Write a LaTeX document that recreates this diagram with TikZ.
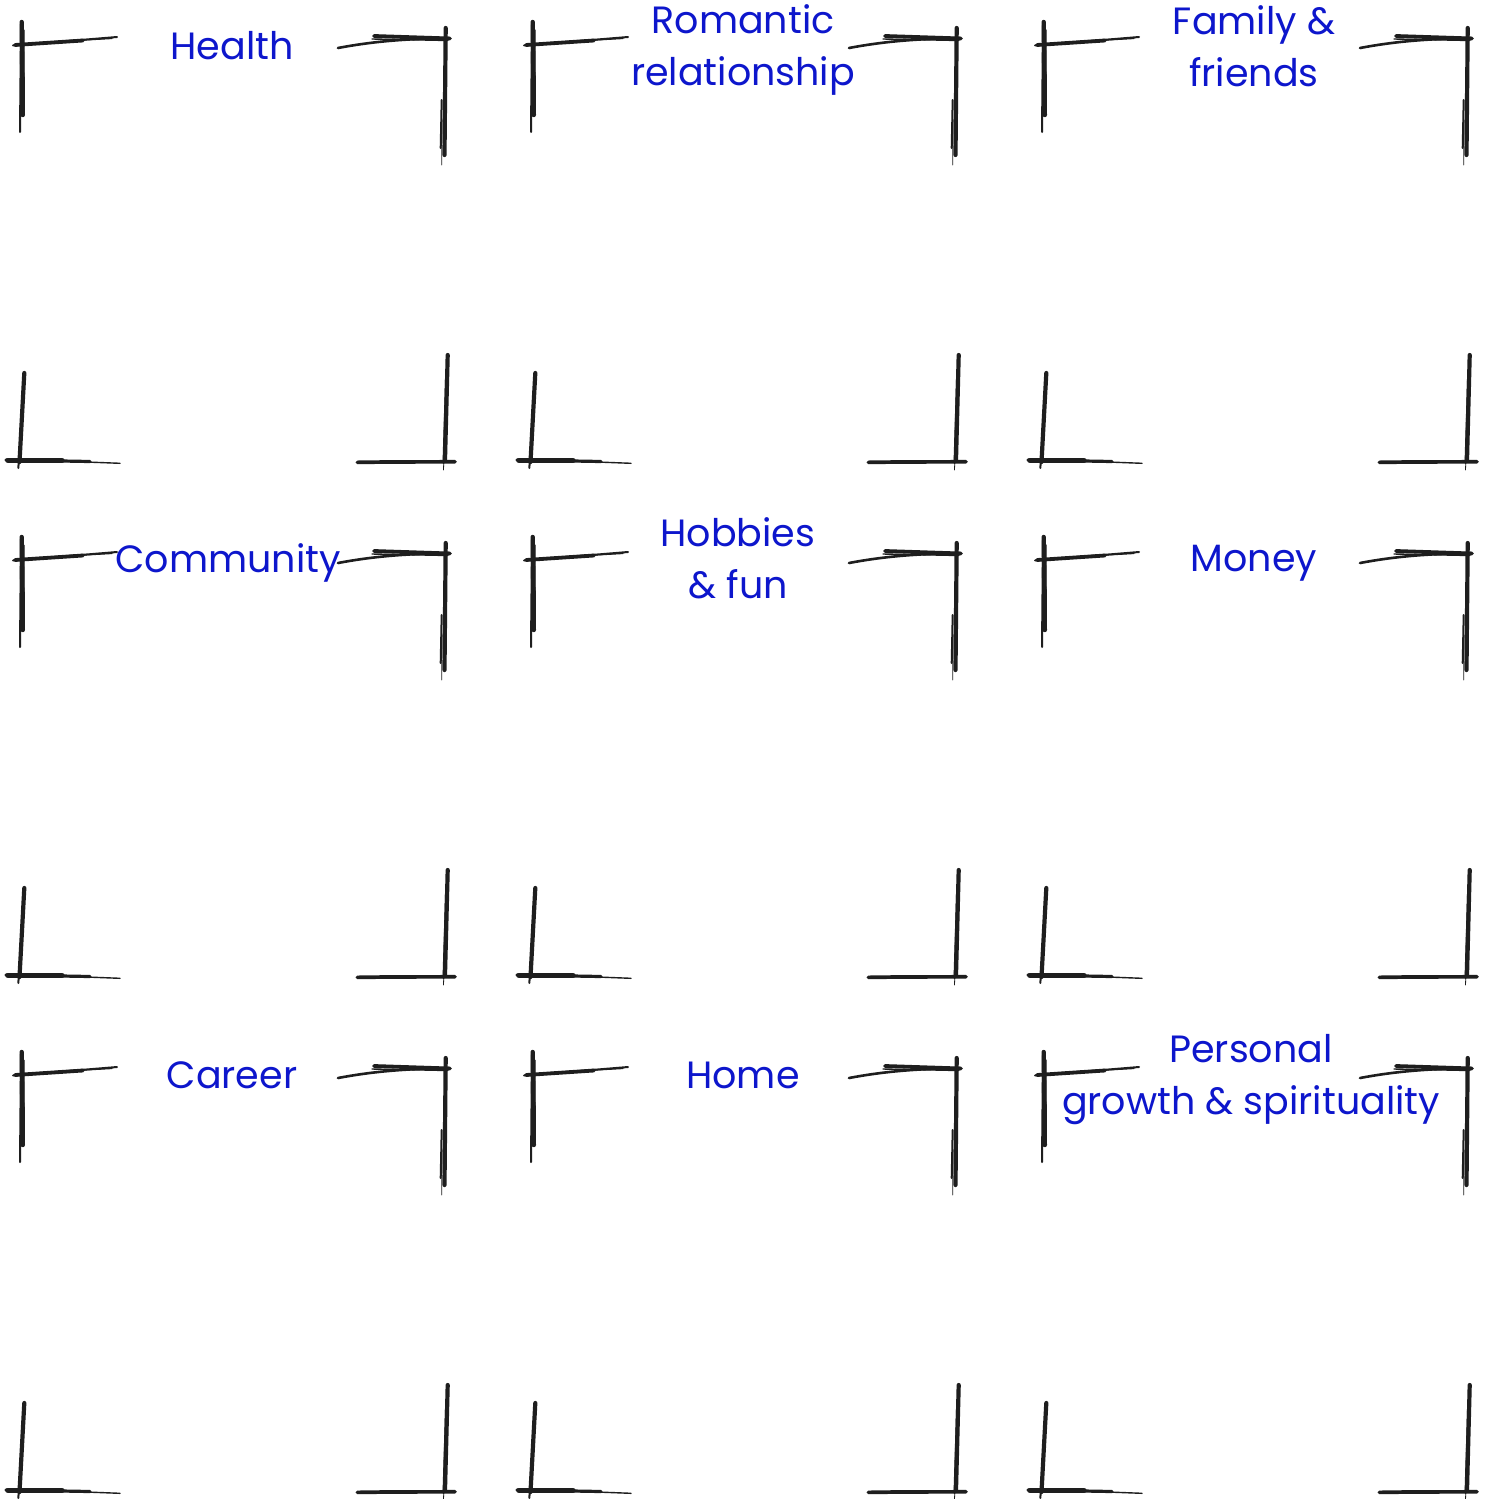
\documentclass[tikz,border=0pt]{standalone}
\usepackage{fontspec}
\setmainfont{Poppins}
\definecolor{inkc}{RGB}{30,30,30}
\definecolor{labc}{RGB}{13,22,204}
\tikzset{
  br/.style={draw=inkc, line cap=round, line width=#1},
  br/.default=2,
  lab/.style={text=labc, font=\fontsize{38}{52}\selectfont, align=center, inner sep=0pt},
}
\begin{document}
\begin{tikzpicture}[x=1pt,y=-1pt]
\useasboundingbox[fill=white] (0,0) rectangle (1490,1499);
\foreach \cx in {0,511,1022}{
  \foreach \cy in {0,515,1030}{
    \begin{scope}[shift={(\cx,\cy)}]
      % top-left corner
      \draw[br=4.4] (21.7,22) -- (22.8,115);
      \draw[br=2] (21,24) -- (20,132);
      \draw[br=1.4] (23.8,30) -- (24.2,105);
      \draw[br=3.8] (15,45) -- (83,40.5);
      \draw[br=2] (13,45.5) -- (117,37);
      \draw[br=1.2] (40,42.5) -- (112,38.5);
      % top-right corner
      \draw[br=2.6] (338,48) .. controls (370,42) and (400,39) .. (449,38);
      \draw[br=3.8] (374,36) -- (450,38.5);
      \draw[br=1.4] (372,39) -- (448,40.5);
      \draw[br=4.2] (445.7,28) -- (444.5,155);
      \draw[br=2] (441.7,100) -- (440.7,148);
      \draw[br=0.8] (442,120) -- (441.7,165);
      % bottom-left corner
      \draw[br=4.2] (24.3,373) -- (19.5,462);
      \draw[br=2] (22,420) -- (18.3,468);
      \draw[br=5.5] (8,460.5) -- (62,460.5);
      \draw[br=3.2] (6,460) -- (90,461.5);
      \draw[br=1.4] (60,461) -- (120,463.3);
      % bottom-right corner
      \draw[br=4.2] (447.7,355) -- (445,460);
      \draw[br=2] (446,380) -- (443.5,463);
      \draw[br=0.8] (444,455) -- (443.5,470);
      \draw[br=3.6] (357.3,462.3) -- (455,461.7);
      \draw[br=1.4] (380,460.5) -- (450,460.5);
    \end{scope}
  }
}
\node[lab] (health) at (232,46) {Health};
\node[lab] (romantic) at (743,50) {Romantic\\relationship};
\node[lab] (family) at (1254,46) {Family \&\\friends};
\node[lab] (community) at (228,563) {Community};
\node[lab] (hobbies) at (738,558) {Hobbies\\\& fun};
\node[lab] (money) at (1254,563) {Money};
\node[lab] (career) at (232,1075) {Career};
\node[lab] (home) at (743,1075) {Home};
\node[lab] (personal) at (1251,1080) {Personal\\growth \& spirituality};
\end{tikzpicture}
\end{document}
